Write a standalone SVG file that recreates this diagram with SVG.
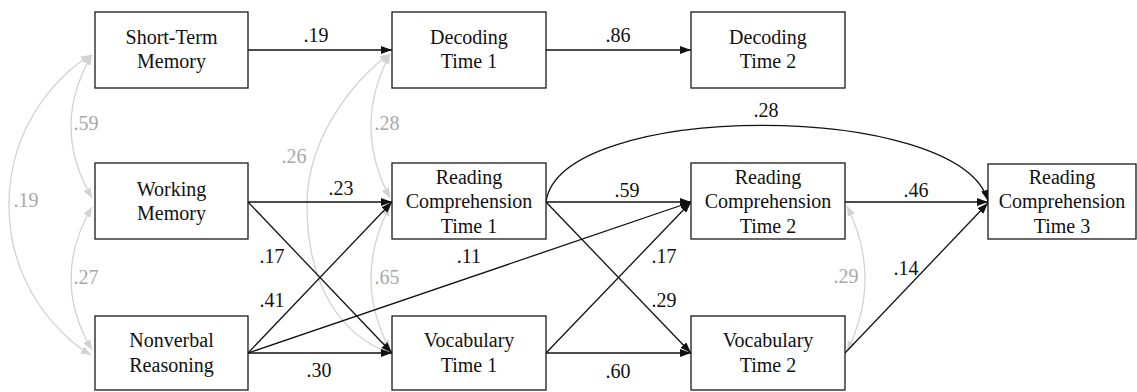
<svg xmlns="http://www.w3.org/2000/svg" width="1137" height="392" viewBox="0 0 1137 392">
  <style>
    text { font-family: 'Liberation Serif', Tinos, 'Nimbus Roman', 'Nimbus Roman No9 L', FreeSerif, 'Noto Serif', 'DejaVu Serif', Times, serif; font-size: 20px; text-anchor: middle; }
    .box { fill: #ffffff; stroke: #1a1a1a; stroke-width: 1.3; }
    .lbl { fill: #111111; }
    .num { fill: #111111; }
    .cnum { fill: #a8a8a8; }
    .path { fill: none; stroke: #111111; stroke-width: 1.3; marker-end: url(#arrow); }
    .cov { fill: none; stroke: #d2d2d2; stroke-width: 1.3; marker-start: url(#garrow); marker-end: url(#garrow); }
  </style>
  <defs>
    <marker id="arrow" markerUnits="userSpaceOnUse" markerWidth="11" markerHeight="8" refX="11" refY="4" orient="auto">
      <path d="M0,0 L11,4 L0,8 z" fill="#111111"/>
    </marker>
    <marker id="garrow" markerUnits="userSpaceOnUse" markerWidth="10" markerHeight="8" refX="10" refY="4" orient="auto-start-reverse">
      <path d="M0,0 L10,4 L0,8 z" fill="#d2d2d2"/>
    </marker>
  </defs>

  <!-- covariances (grey, double-headed) and regression paths (black) -->
  <g id="connectors">
    <path class="cov" d="M92,55 Q50,126 92,198"/>
    <path class="cov" d="M92,207 Q50,279 92,350"/>
    <path class="cov" d="M91,55 C65,70 9,120 9,205 C9,290 65,340 91,355"/>
    <path class="cov" d="M390,54 Q352,126 390,198"/>
    <path class="cov" d="M390,206 Q352,278 390,350"/>
    <path class="cov" d="M390,54 C365,70 307,130 307,205 C307,285 340,335 390,353"/>
    <path class="cov" d="M847,206 Q883,279 847,351"/>

    <line class="path" x1="248" y1="50" x2="392" y2="50"/>
    <line class="path" x1="546" y1="50" x2="691" y2="50"/>
    <line class="path" x1="248" y1="202" x2="392" y2="202"/>
    <line class="path" x1="248" y1="202" x2="392" y2="353"/>
    <line class="path" x1="248" y1="353" x2="392" y2="202"/>
    <line class="path" x1="248" y1="353" x2="691" y2="202"/>
    <line class="path" x1="248" y1="353" x2="392" y2="353"/>
    <line class="path" x1="546" y1="202" x2="691" y2="202"/>
    <line class="path" x1="546" y1="202" x2="691" y2="353"/>
    <line class="path" x1="546" y1="353" x2="691" y2="202"/>
    <line class="path" x1="546" y1="353" x2="691" y2="353"/>
    <line class="path" x1="845" y1="202" x2="988" y2="202"/>
    <line class="path" x1="845" y1="353" x2="988" y2="203"/>
    <path class="path" d="M546,202 C560,100 960,100 988,201"/>

    <text class="num" x="316" y="42">.19</text>
    <text class="num" x="618" y="42">.86</text>
    <text class="num" x="341" y="195">.23</text>
    <text class="num" x="272" y="263">.17</text>
    <text class="num" x="272" y="307">.41</text>
    <text class="num" x="319" y="377">.30</text>
    <text class="num" x="469" y="263">.11</text>
    <text class="num" x="627" y="197">.59</text>
    <text class="num" x="664" y="263">.17</text>
    <text class="num" x="664" y="307">.29</text>
    <text class="num" x="618" y="378">.60</text>
    <text class="num" x="766" y="117">.28</text>
    <text class="num" x="916" y="197">.46</text>
    <text class="num" x="906" y="275">.14</text>

    <text class="cnum" x="86" y="130">.59</text>
    <text class="cnum" x="86" y="284">.27</text>
    <text class="cnum" x="26" y="207">.19</text>
    <text class="cnum" x="294" y="163">.26</text>
    <text class="cnum" x="387" y="130">.28</text>
    <text class="cnum" x="387" y="284">.65</text>
    <text class="cnum" x="846" y="283">.29</text>
  </g>

  <g id="short-term-memory">
    <rect class="box" x="95" y="12" width="153" height="76"/>
    <text class="lbl" x="171.5" y="44">Short-Term</text>
    <text class="lbl" x="171.5" y="68">Memory</text>
  </g>
  <g id="working-memory">
    <rect class="box" x="95" y="163" width="153" height="76"/>
    <text class="lbl" x="171.5" y="196">Working</text>
    <text class="lbl" x="171.5" y="220">Memory</text>
  </g>
  <g id="nonverbal-reasoning">
    <rect class="box" x="95" y="316" width="153" height="74"/>
    <text class="lbl" x="171.5" y="347">Nonverbal</text>
    <text class="lbl" x="171.5" y="372">Reasoning</text>
  </g>
  <g id="decoding-t1">
    <rect class="box" x="392" y="12" width="154" height="76"/>
    <text class="lbl" x="469" y="44">Decoding</text>
    <text class="lbl" x="469" y="68">Time 1</text>
  </g>
  <g id="decoding-t2">
    <rect class="box" x="691" y="12" width="154" height="76"/>
    <text class="lbl" x="768" y="44">Decoding</text>
    <text class="lbl" x="768" y="68">Time 2</text>
  </g>
  <g id="reading-t1">
    <rect class="box" x="392" y="163" width="154" height="76"/>
    <text class="lbl" x="469" y="184">Reading</text>
    <text class="lbl" x="469" y="208">Comprehension</text>
    <text class="lbl" x="469" y="233">Time 1</text>
  </g>
  <g id="vocabulary-t1">
    <rect class="box" x="392" y="316" width="154" height="74"/>
    <text class="lbl" x="469" y="347">Vocabulary</text>
    <text class="lbl" x="469" y="372">Time 1</text>
  </g>
  <g id="reading-t2">
    <rect class="box" x="691" y="163" width="154" height="76"/>
    <text class="lbl" x="768" y="184">Reading</text>
    <text class="lbl" x="768" y="208">Comprehension</text>
    <text class="lbl" x="768" y="233">Time 2</text>
  </g>
  <g id="vocabulary-t2">
    <rect class="box" x="691" y="316" width="154" height="74"/>
    <text class="lbl" x="768" y="347">Vocabulary</text>
    <text class="lbl" x="768" y="372">Time 2</text>
  </g>
  <g id="reading-t3">
    <rect class="box" x="988" y="164" width="148" height="75"/>
    <text class="lbl" x="1062" y="184">Reading</text>
    <text class="lbl" x="1062" y="208">Comprehension</text>
    <text class="lbl" x="1062" y="233">Time 3</text>
  </g>
</svg>
